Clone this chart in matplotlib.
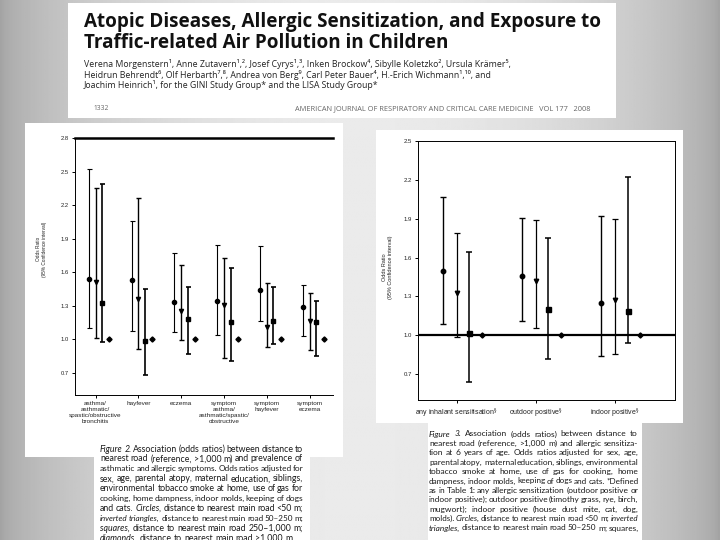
import numpy as np
import matplotlib
matplotlib.use("Agg")
import matplotlib.pyplot as plt
from matplotlib.patches import Rectangle

W, H = 720, 540

# Figure 2 (left panel): odds ratios and 95% CI by distance to main road
fig2_cats = ["asthma/\nasthmatic/\nspastic/obstructive\nbronchitis", "hayfever", "eczema",
             "symptom\nasthma/\nasthmatic/spastic/\nobstructive", "symptom\nhayfever", "symptom\neczema"]
f2_circle = [1.54, 1.525, 1.33, 1.34, 1.44, 1.29]
f2_circle_lo = [1.10, 1.07, 1.065, 1.04, 1.16, 1.03]
f2_circle_hi = [2.525, 2.06, 1.77, 1.84, 1.83, 1.485]
f2_tri = [1.515, 1.36, 1.25, 1.305, 1.11, 1.165]
f2_tri_lo = [1.01, 0.91, 0.99, 0.835, 0.93, 0.90]
f2_tri_hi = [2.35, 2.26, 1.66, 1.73, 1.505, 1.41]
f2_sq = [1.32, 0.985, 1.18, 1.15, 1.16, 1.15]
f2_sq_lo = [0.975, 0.675, 0.87, 0.80, 0.96, 0.85]
f2_sq_hi = [2.385, 1.45, 1.465, 1.635, 1.465, 1.34]
f2_ref = [1.0, 1.0, 1.0, 1.0, 1.0, 1.0]
f2_yticks = [0.7, 1.0, 1.3, 1.6, 1.9, 2.2, 2.5, 2.8]

# Figure 3 (right panel)
fig3_cats = [r"any inhalant sensitisation$^{\S}$", r"outdoor positive$^{\S}$", r"indoor positive$^{\S}$"]
f3_circle = [1.50, 1.455, 1.25]
f3_circle_lo = [1.09, 1.11, 0.84]
f3_circle_hi = [2.065, 1.905, 1.92]
f3_tri = [1.33, 1.42, 1.27]
f3_tri_lo = [0.99, 1.055, 0.855]
f3_tri_hi = [1.79, 1.89, 1.90]
f3_sq = [1.02, 1.20, 1.19]
f3_sq_lo = [0.64, 0.82, 0.94]
f3_sq_hi = [1.645, 1.75, 2.22]
f3_ref = [1.0, 1.0, 1.0]
f3_yticks = [0.7, 1.0, 1.3, 1.6, 1.9, 2.2, 2.5]

title_lines = ["Atopic Diseases, Allergic Sensitization, and Exposure to",
               "Traffic-related Air Pollution in Children"]
author_lines = [
    "Verena Morgenstern\u00b9, Anne Zutavern\u00b9,\u00b2, Josef Cyrys\u00b9,\u00b3, Inken Brockow\u2074, "
    "Sibylle Koletzko\u00b2, Ursula Kr\u00e4mer\u2075,",
    "Heidrun Behrendt\u2076, Olf Herbarth\u2077,\u2078, Andrea von Berg\u2079, Carl Peter Bauer\u2074, "
    "H.-Erich Wichmann\u00b9,\u00b9\u2070, and",
    "Joachim Heinrich\u00b9, for the GINI Study Group* and the LISA Study Group*",
]
journal_line = "AMERICAN JOURNAL OF RESPIRATORY AND CRITICAL CARE MEDICINE   VOL 177   2008"

cap2_lines = [
    "Figure 2.  Association (odds ratios) between distance to",
    "nearest road (reference, >1,000 m) and prevalence of",
    "asthmatic and allergic symptoms. Odds ratios adjusted for",
    "sex, age, parental atopy, maternal education, siblings,",
    "environmental tobacco smoke at home, use of gas for",
    "cooking, home dampness, indoor molds, keeping of dogs",
    "and cats. Circles, distance to nearest main road <50 m;",
    "inverted triangles, distance to nearest main road 50\u2013250 m;",
    "squares, distance to nearest main road 250\u20131,000 m;",
    "diamonds, distance to nearest main road >1,000 m.",
]
cap2_italic = {"Figure", "2.", "Circles,", "inverted", "triangles,", "squares,", "diamonds,"}
cap3_lines = [
    "Figure 3.  Association (odds ratios) between distance to",
    "nearest road (reference, >1,000 m) and allergic sensitiza-",
    "tion at 6 years of age. Odds ratios adjusted for sex, age,",
    "parental atopy, maternal education, siblings, environmental",
    "tobacco smoke at home, use of gas for cooking, home",
    "dampness, indoor molds, keeping of dogs and cats. *Defined",
    "as in Table 1: any allergic sensitization (outdoor positive or",
    "indoor positive); outdoor positive (timothy grass, rye, birch,",
    "mugwort); indoor positive (house dust mite, cat, dog,",
    "molds). Circles, distance to nearest main road <50 m; inverted",
    "triangles, distance to nearest main road 50\u2013250 m; squares,",
]
cap3_italic = {"Figure", "3.", "Circles,", "inverted", "triangles,"}

SANS = ["Open Sans", "DejaVu Sans"]
CAP = ["Lato", "DejaVu Sans"]
NARROW = ["Liberation Sans Narrow", "Liberation Sans", "DejaVu Sans"]

fig = plt.figure(figsize=(7.2, 5.4), dpi=100)
r = fig.canvas.get_renderer()

# background slide gradient, pixel coordinates with y downwards
bg = fig.add_axes([0, 0, 1, 1])
u = np.linspace(0, 1, 400)
shade = 0.64 + 0.28 * np.sin(np.pi * u) ** 0.6
bg.imshow(np.tile(shade, (50, 1)), cmap="gray", vmin=0, vmax=1, aspect="auto",
          extent=[0, W, H, 0])
bg.set_xlim(0, W)
bg.set_ylim(H, 0)
bg.axis("off")

for (x, y, w, h) in [(68, 3, 548, 115), (25, 123, 318, 334), (94, 455, 216, 90),
                     (376, 130, 307, 293), (428, 420, 214, 125)]:
    bg.add_patch(Rectangle((x, y), w, h, facecolor="white", edgecolor="none"))


def fit_text(x, y, s, width, size=10, **kw):
    t = bg.text(x, y, s, fontsize=size, va="baseline", **kw)
    w = t.get_window_extent(r).width
    t.set_fontsize(size * width / w)
    return size * width / w


def caption(lines, italics, x0, x1, y0, dy, last_plain=True):
    # size from the median line width, then justify word by word
    target = x1 - x0
    probe = [bg.text(0, 0, ln, fontsize=10, family=CAP) for ln in lines]
    med = np.median([p.get_window_extent(r).width for p in probe])
    for p in probe:
        p.remove()
    size = 10 * target / med * 1.03
    for i, line in enumerate(lines):
        words = line.split()
        arts = [bg.text(0, 0, wd, fontsize=size, family=CAP, color="#1a1a1a", va="baseline",
                        style="italic" if wd in italics else "normal") for wd in words]
        widths = [a.get_window_extent(r).width for a in arts]
        min_gap = size * 0.25
        tight = sum(widths) + min_gap * (len(words) - 1)
        if tight > target:
            k = target / tight
            for a in arts:
                a.set_fontsize(size * k)
            widths = [w * k for w in widths]
        gap = (target - sum(widths)) / max(len(words) - 1, 1)
        if last_plain and i == len(lines) - 1:
            gap = size * 0.35
        x = x0
        for a, wd in zip(arts, widths):
            a.set_position((x, y0 + i * dy))
            x += wd + gap


# header
fs = fit_text(84, 27.5, title_lines[0], 516, family=SANS, fontweight="bold", color="#111111")
bg.text(84, 47.5, title_lines[1], fontsize=fs, family=SANS, fontweight="bold",
        color="#111111", va="baseline")
fs = fit_text(84, 67, author_lines[0], 426, family=SANS, color="#222222")
bg.text(84, 78, author_lines[1], fontsize=fs, family=SANS, color="#222222", va="baseline")
bg.text(84, 88.5, author_lines[2], fontsize=fs, family=SANS, color="#222222", va="baseline")
bg.text(93, 110, "1332", fontsize=4.8, family=SANS, color="#666666", va="baseline")
fit_text(295, 110, journal_line, 295, family=SANS, color="#666666")


def panel(rect, cats, yticks, ylim, xlim, series, ref, tick_size, cat_size, cap):
    left, top, right, bottom = rect
    ax = fig.add_axes([left / W, 1 - bottom / H, (right - left) / W, (bottom - top) / H])
    ax.set_facecolor("white")
    x = np.arange(1, len(cats) + 1)
    for off, vals, lo, hi, mk, ms, lw in series:
        vals, lo, hi = np.array(vals), np.array(lo), np.array(hi)
        ax.errorbar(x + off, vals, yerr=[vals - lo, hi - vals], fmt=mk, color="black",
                    ms=ms, capsize=cap, elinewidth=lw, capthick=lw)
    ax.plot(x + 0.32, ref, "D", color="black", ms=2.6)
    ax.set_xlim(*xlim)
    ax.set_ylim(*ylim)
    ax.set_yticks(yticks)
    ax.set_yticklabels(["%.1f" % v for v in yticks], fontsize=tick_size, family=NARROW,
                       color="#222222")
    ax.set_xticks(x)
    ax.set_xticklabels(cats, fontsize=cat_size, family=NARROW, color="#222222",
                       linespacing=1.2)
    ax.tick_params(length=2.5, width=0.7, pad=2)
    for s in ax.spines.values():
        s.set_linewidth(0.7)
    return ax


ax2 = panel((75, 138, 333, 395), fig2_cats, f2_yticks, (0.5, 2.8), (0.52, 6.54),
            [(-0.16, f2_circle, f2_circle_lo, f2_circle_hi, "o", 3.0, 0.8),
             (0.0, f2_tri, f2_tri_lo, f2_tri_hi, "v", 3.0, 1.0),
             (0.15, f2_sq, f2_sq_lo, f2_sq_hi, "s", 3.0, 1.2)],
            f2_ref, 4.2, 4.6, 1.8)
ax2.spines["right"].set_visible(False)
ax2.spines["top"].set_linewidth(1.8)

ax3 = panel((418, 141, 675, 400), fig3_cats, f3_yticks, (0.5, 2.5), (0.51, 3.76),
            [(-0.17, f3_circle, f3_circle_lo, f3_circle_hi, "o", 3.2, 1.0),
             (0.0, f3_tri, f3_tri_lo, f3_tri_hi, "v", 3.2, 0.9),
             (0.16, f3_sq, f3_sq_lo, f3_sq_hi, "s", 3.6, 1.1)],
            f3_ref, 4.3, 5.0, 2.0)
ax3.axhline(1.0, color="black", lw=1.6, zorder=1)

bg.text(41.5, 249, "Odds Ratio\n(95% Confidence interval)", rotation=90, fontsize=3.4,
        family=NARROW, ha="center", va="center", linespacing=1.3, color="#222222")
bg.text(387.5, 267, "Odds Ratio\n(95% Confidence interval)", rotation=90, fontsize=4.0,
        family=NARROW, ha="center", va="center", linespacing=1.3, color="#222222")

caption(cap2_lines, cap2_italic, 100, 303, 451.5, 9.9)
caption(cap3_lines, cap3_italic, 429, 638, 436.5, 9.4, last_plain=False)

fig.savefig("out.png", dpi=100)
